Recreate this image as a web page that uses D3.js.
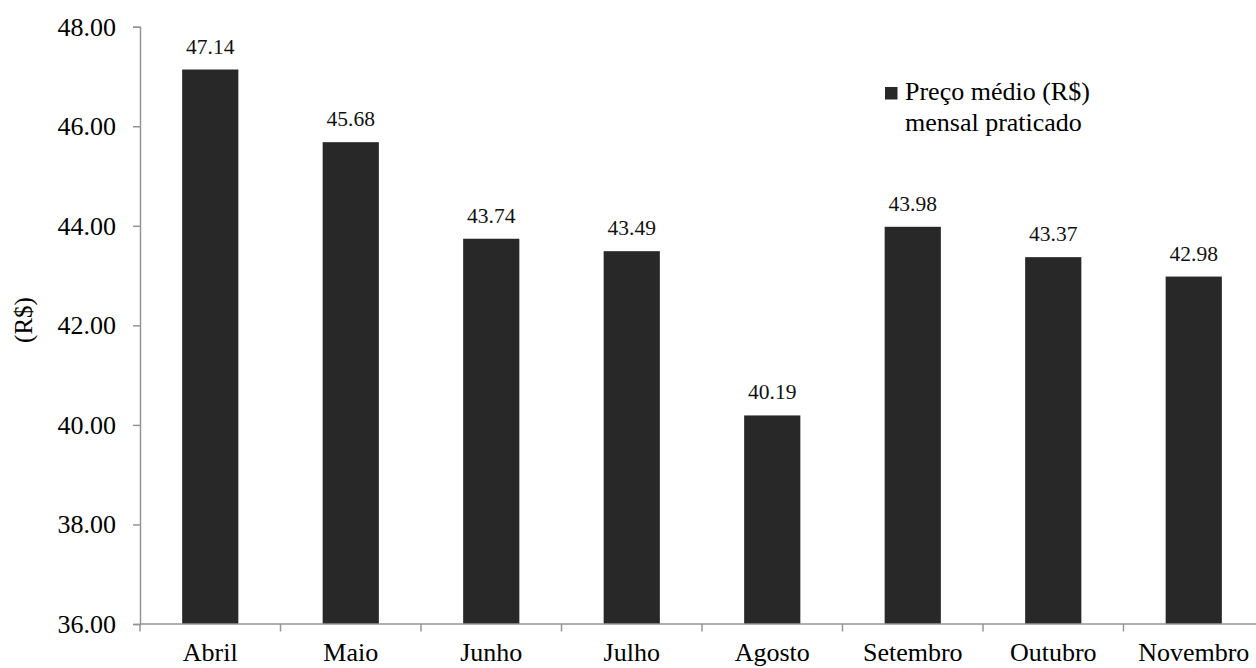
<!DOCTYPE html>
<html><head><meta charset="utf-8">
<script src="https://cdn.jsdelivr.net/npm/d3@7"></script>
<style>body{margin:0;background:#fff}svg{display:block}</style>
</head><body>
<svg id="c" width="1256" height="668"></svg>
<script>
const categories = ["Abril","Maio","Junho","Julho","Agosto","Setembro","Outubro","Novembro"];
const values = [47.14,45.68,43.74,43.49,40.19,43.98,43.37,42.98];
const yTicks = [36,38,40,42,44,46,48];
const seriesName = ["Preço médio (R$)","mensal praticado"];

const FONT = "'Liberation Serif', 'Times New Roman', serif";
const svg = d3.select("#c");
const x = d3.scaleBand().domain(categories).range([140,1264]).paddingInner(0.6).paddingOuter(0.3);
const y = d3.scaleLinear().domain([36,48]).range([624,26.7]);
const axisColor = "#959595";
const barColor = "#282828";

// bars
svg.append("g").selectAll("rect").data(values).join("rect")
  .attr("x",(d,i)=>x(categories[i])).attr("width",x.bandwidth())
  .attr("y",d=>y(d)).attr("height",d=>y(36)-y(d))
  .attr("fill",barColor);

// labels
svg.append("g").selectAll("text").data(values).join("text")
  .attr("x",(d,i)=>x(categories[i])+x.bandwidth()/2).attr("y",d=>y(d)-16)
  .attr("text-anchor","middle").style("font-family",FONT).style("font-size","21.5px").attr("fill","#111")
  .text(d=>d.toFixed(2));

// y axis
const ya = svg.append("g").attr("transform","translate(140,0)")
  .call(d3.axisLeft(y).tickValues(yTicks).tickFormat(d3.format(".2f")).tickSize(7).tickPadding(17));
ya.attr("font-family",null).attr("font-size",null);
ya.select(".domain").attr("stroke",axisColor).attr("stroke-width",1.5);
ya.selectAll(".tick line").attr("stroke",axisColor).attr("stroke-width",1.5);
ya.selectAll(".tick text").style("font-family",FONT).style("font-size","26px").attr("fill","#000");

// x axis with ticks at band boundaries
const xa = svg.append("g").attr("transform","translate(0,624)");
const step = x.step();
xa.append("line").attr("x1",140).attr("x2",1264).attr("stroke",axisColor).attr("stroke-width",1.5);
const bounds = d3.range(categories.length+1).map(i=>140+i*step);
xa.selectAll("line.t").data(bounds).join("line").attr("class","t")
  .attr("x1",d=>d).attr("x2",d=>d).attr("y1",0).attr("y2",7.5)
  .attr("stroke",axisColor).attr("stroke-width",1.5);
xa.selectAll("text").data(categories).join("text")
  .attr("x",d=>x(d)+x.bandwidth()/2).attr("y",37)
  .attr("text-anchor","middle").style("font-family",FONT).style("font-size","26px").attr("fill","#000")
  .text(d=>d);

// y title
svg.append("text").attr("transform","translate(32,320) rotate(-90)")
  .attr("text-anchor","middle").style("font-family",FONT).style("font-size","25px").attr("fill","#000").text("(R$)");

// legend
svg.append("rect").attr("x",885).attr("y",87).attr("width",12.5).attr("height",12.5).attr("fill",barColor);
svg.append("g").selectAll("text").data(seriesName).join("text")
  .attr("x",905).attr("y",(d,i)=>99.5+i*31.5).style("font-family",FONT).style("font-size","26px").attr("fill","#000").text(d=>d);
</script>
</body></html>
